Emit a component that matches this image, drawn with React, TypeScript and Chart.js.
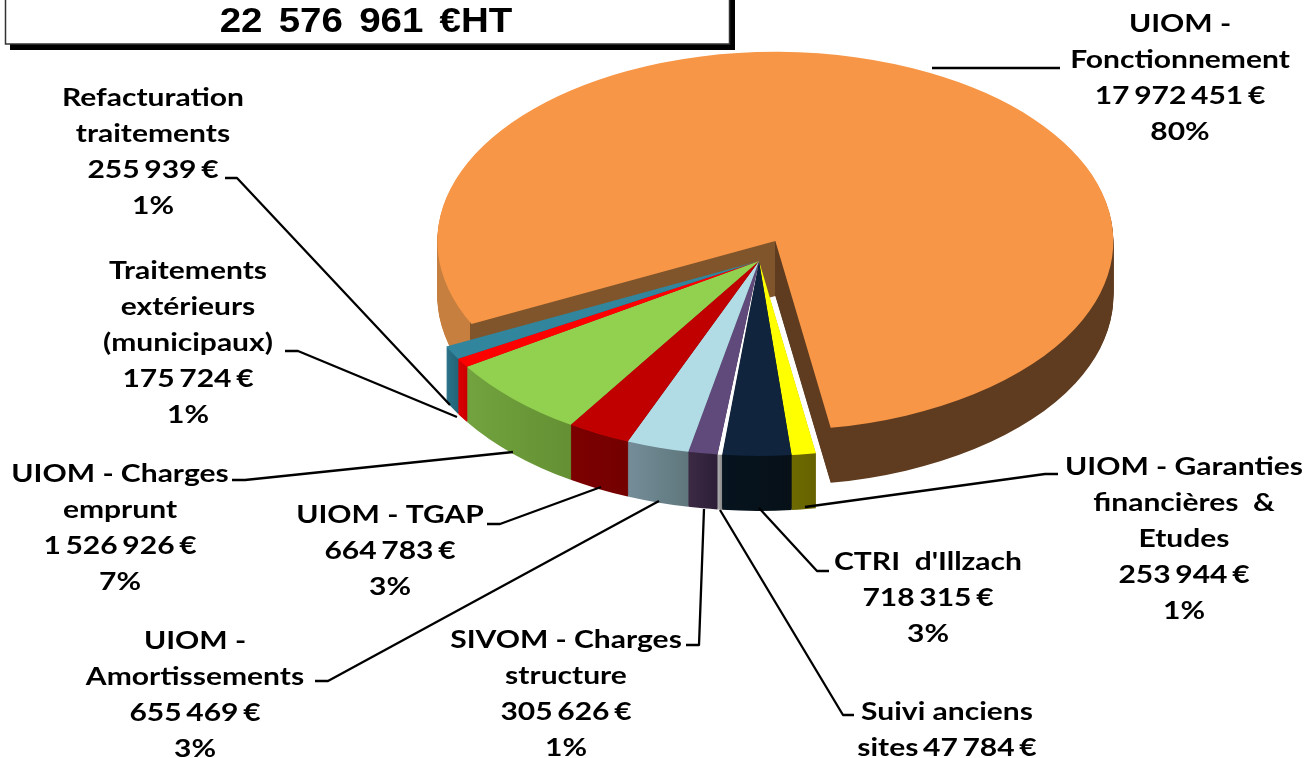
import React, { useEffect, useRef } from "react";
import { Chart, registerables } from "chart.js";

Chart.register(...registerables);

const totalLabel = "22 576 961 €HT";
const nameLines = [
  ["UIOM -", "Fonctionnement"],
  ["UIOM - Garanties", "financières  &", "Etudes"],
  ["CTRI  d'Illzach"],
  ["Suivi anciens"],
  ["SIVOM - Charges", "structure"],
  ["UIOM -", "Amortissements"],
  ["UIOM - TGAP"],
  ["UIOM - Charges", "emprunt"],
  ["Traitements", "extérieurs", "(municipaux)"],
  ["Refacturation", "traitements"],
];
const values = [17972451, 253944, 718315, 47784, 305626, 655469, 664783, 1526926, 175724, 255939];
const percents = ["80%", "1%", "3%", "", "1%", "3%", "3%", "7%", "1%", "1%"];

const topColors = ["#f79646", "#ffff00", "#10243e", "#ffffff", "#604a7b", "#b1dbe5", "#c00000", "#92d050", "#ff0000", "#31859c"];
const sideColors = [
  ["#c67f3f", "#5f3c20"],
  ["#6e6a00", "#666200"],
  ["#06141f", "#071017"],
  ["#b0b0b0", "#888888"],
  ["#3c2a44", "#2d1f38"],
  ["#748d99", "#5f777c"],
  ["#7c0000", "#740000"],
  ["#72a33f", "#649033"],
  ["#dc0000", "#cc0000"],
  ["#2a7389", "#226478"],
];

// Layout of the text blocks: centre x, y of first line centre, line pitch.
const labelX = [1180, 1184, 928, 947, 566, 195, 390, 120, 188, 153];
const labelY = [24, 467, 562, 712, 640, 641, 515, 474, 271, 98];
const leaders = [
  [[932, 68], [1060, 68]],
  [[805, 507], [1045, 474], [1058, 474]],
  [[759, 508], [817, 571], [829, 571]],
  [[720, 510], [843, 715], [854, 715]],
  [[704, 509], [699, 645], [686, 645]],
  [[659, 501], [328, 681], [315, 681]],
  [[601, 487], [500, 524], [487, 524]],
  [[513, 452], [245, 480], [232, 480]],
  [[457, 417], [298, 351], [285, 351]],
  [[450, 405], [237, 178], [225, 178]],
];

const WIDTH = 1306;
const HEIGHT = 758;
const APEX_X = 759;
const APEX_Y = 261;
const SQUASH = 0.56;
const DEPTH = 55;
const EXPLODE = 40;
const MAIN_NUDGE_X = -2;
const RADIUS = 348;
const MAIN_RADIUS = 338;
const LINE_PITCH = 36.1;

const money = (v: number) => String(v).replace(/\B(?=(\d{3})+(?!\d))/g, " ") + " €";

const textLines = (i: number) => {
  const names = nameLines[i];
  if (percents[i] === "") {
    return [names[0], "sites " + money(values[i])];
  }
  return [...names, money(values[i]), percents[i]];
};

const pie3d = {
  id: "pie3d",
  afterDatasetsUpdate(chart: any) {
    const arc = chart.getDatasetMeta(0).data[0];
    const mid = (arc.startAngle + arc.endAngle) / 2;
    arc.x += Math.cos(mid) * EXPLODE + MAIN_NUDGE_X;
    arc.y += Math.sin(mid) * EXPLODE;
    arc.outerRadius = MAIN_RADIUS;
  },
  beforeDatasetsDraw(chart: any) {
    const { ctx } = chart;
    const arcs = chart.getDatasetMeta(0).data;
    const cx = chart.chartArea.left + chart.chartArea.width / 2;
    const cy = chart.chartArea.top + chart.chartArea.height / 2;
    const shiftX = APEX_X - cx;
    ctx.save();
    ctx.translate(APEX_X, APEX_Y);
    ctx.scale(1, SQUASH);
    ctx.translate(-cx, -cy);

    const order = [0, 1, 9, 8, 7, 6, 5, 4, 3, 2];
    for (const i of order) {
      const arc = arcs[i];
      let fill: any;
      if (i === 0) {
        const g = ctx.createLinearGradient(430 - shiftX, 0, 1120 - shiftX, 0);
        const a = (470 - 430) / 690;
        const b = (775 - 430) / 690;
        g.addColorStop(0, sideColors[0][0]);
        g.addColorStop(a, sideColors[0][0]);
        g.addColorStop(a, "#80552b");
        g.addColorStop(b, "#80552b");
        g.addColorStop(b, sideColors[0][1]);
        g.addColorStop(1, sideColors[0][1]);
        fill = g;
      } else {
        const x1 = arc.x + arc.outerRadius * Math.cos(arc.startAngle);
        const x2 = arc.x + arc.outerRadius * Math.cos(arc.endAngle);
        const g = ctx.createLinearGradient(Math.min(x1, x2), 0, Math.max(x1, x2) + 0.01, 0);
        g.addColorStop(0, sideColors[i][0]);
        g.addColorStop(1, sideColors[i][1]);
        fill = g;
      }
      const saved = arc.options;
      arc.options = { ...saved, backgroundColor: fill, borderWidth: 0 };
      for (let d = DEPTH; d >= 1; d--) {
        ctx.save();
        ctx.translate(0, d / SQUASH);
        arc.draw(ctx);
        ctx.restore();
      }
      arc.options = saved;
    }
  },
  afterDatasetsDraw(chart: any) {
    chart.ctx.restore();
  },
  afterDraw(chart: any) {
    const { ctx } = chart;
    ctx.save();

    // Total box
    ctx.fillStyle = "#000000";
    ctx.fillRect(10, -5, 725, 55);
    ctx.fillStyle = "#ffffff";
    ctx.fillRect(5, -5, 725, 49);
    ctx.strokeStyle = "#333333";
    ctx.lineWidth = 1.5;
    ctx.strokeRect(5.5, -5, 724, 49);
    ctx.fillStyle = "#000000";
    ctx.textBaseline = "alphabetic";
    ctx.textAlign = "center";
    ctx.save();
    ctx.translate(366, 32);
    ctx.scale(1.1, 1);
    ctx.font = "bold 35px 'Liberation Sans'";
    ctx.wordSpacing = "5px";
    ctx.fillText(totalLabel, 0, 0);
    ctx.restore();

    // Leader lines
    ctx.strokeStyle = "#000000";
    ctx.lineWidth = 2.3;
    ctx.lineJoin = "round";
    for (const line of leaders) {
      ctx.beginPath();
      line.forEach(([x, y], k) => (k === 0 ? ctx.moveTo(x, y) : ctx.lineTo(x, y)));
      ctx.stroke();
    }

    // Labels
    ctx.fillStyle = "#000000";
    values.forEach((_, i) => {
      textLines(i).forEach((t, k) => {
        ctx.save();
        ctx.translate(labelX[i], labelY[i] + k * LINE_PITCH + 8);
        ctx.scale(1.2, 1);
        ctx.font = "bold 25px Lato";
        ctx.wordSpacing = t.includes("€") ? "-2.2px" : "0px";
        ctx.fillText(t, 0, 0);
        ctx.restore();
      });
    });
    ctx.restore();
  },
};

export default function App() {
  const ref = useRef<HTMLCanvasElement>(null);
  useEffect(() => {
    document.body.style.margin = "0";
    const chart = new Chart(ref.current as HTMLCanvasElement, {
      type: "pie",
      data: {
        labels: nameLines.map((n) => n.join(" ")),
        datasets: [
          {
            data: values,
            backgroundColor: topColors,
            borderWidth: 0,
            radius: RADIUS,
            clip: false,
          } as any,
        ],
      },
      options: {
        animation: false,
        responsive: false,
        rotation: 244,
        layout: { padding: 0 },
        plugins: { legend: { display: false }, tooltip: { enabled: false }, title: { display: false } },
      },
      plugins: [pie3d],
    });
    return () => chart.destroy();
  }, []);
  return <canvas ref={ref} width={WIDTH} height={HEIGHT} style={{ display: "block" }} />;
}
